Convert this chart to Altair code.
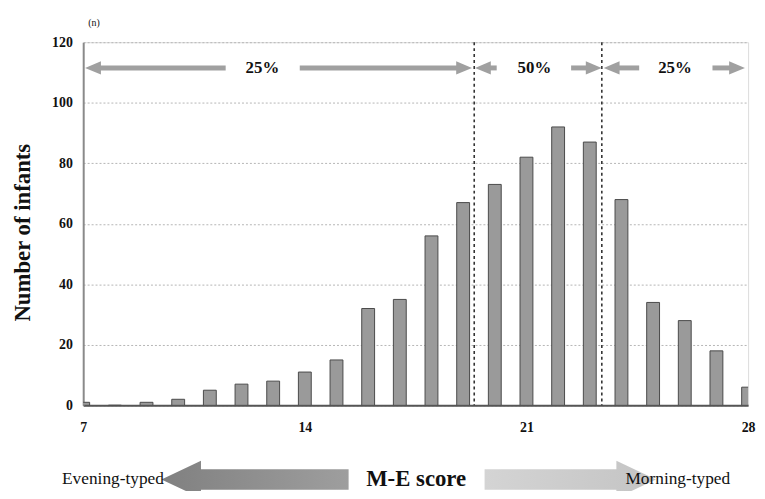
import altair as alt
import pandas as pd

# ---- data ----
scores = list(range(7, 29))
counts = [1, 0, 1, 2, 5, 7, 8, 11, 15, 32, 35, 56, 67, 73, 82, 92, 87, 68, 34, 28, 18, 6]

cutoffs = [19.35, 23.38]

# percentage band arrows (top of the plot)
band_y = 111.5
seg_start = [7.45, 13.84, 19.78, 22.41, 23.84, 26.875]
seg_end = [11.5, 18.88, 20.06, 22.98, 24.56, 27.5]
head_left_x = [7.06, 19.375, 23.44]
head_right_x = [19.28, 23.375, 27.9]
pct_x = [12.66, 21.25, 25.69]
pct_text = ["25%", "50%", "25%"]

# chronotype arrows under the x axis
type_text = ["Evening-typed", "Morning-typed"]
type_x = [7.94, 25.78]
type_y = -24.5
big_left_tip = 9.47
big_right_tip = 25.09

n_label_x = 7.34
n_label_y = 126.5

SERIF = "Liberation Serif"

bars_df = pd.DataFrame({"x": scores, "y": counts})
cut_df = pd.DataFrame({"x": cutoffs})
seg_df = pd.DataFrame({"x": seg_start, "x2": seg_end, "y": [band_y] * len(seg_start)})
hl_df = pd.DataFrame({"x": head_left_x, "y": [band_y] * 3})
hr_df = pd.DataFrame({"x": head_right_x, "y": [band_y] * 3})
pct_df = pd.DataFrame({"x": pct_x, "y": [band_y] * 3, "t": pct_text})
type_df = pd.DataFrame({"x": type_x, "y": [type_y] * 2, "t": type_text})
bl_df = pd.DataFrame({"x": [big_left_tip], "y": [type_y]})
br_df = pd.DataFrame({"x": [big_right_tip], "y": [type_y]})
n_df = pd.DataFrame({"x": [n_label_x], "y": [n_label_y], "t": ["(n)"]})

xscale = alt.Scale(domain=[7, 28], nice=False, zero=False, padding=0)
yscale = alt.Scale(domain=[0, 120], nice=False, padding=0)

x_axis = alt.Axis(
    values=[7, 14, 21, 28], grid=False, ticks=False, labelFlush=False,
    labelFont=SERIF, labelFontSize=14, labelFontWeight="bold", labelColor="#111",
    labelPadding=15, domainColor="#555", domainWidth=2,
    title="M-E score", titleFont=SERIF, titleFontSize=23, titleFontWeight="bold",
    titleColor="#111", titleY=74, titleBaseline="middle",
)
y_axis = alt.Axis(
    values=[0, 20, 40, 60, 80, 100, 120], grid=True, gridDash=[2, 2],
    gridColor="#b5b5b5", gridWidth=1, ticks=False,
    labelFont=SERIF, labelFontSize=14, labelFontWeight="bold", labelColor="#111",
    labelPadding=11, domainColor="#8a8a8a", domainWidth=2,
    title="Number of infants", titleFont=SERIF, titleFontSize=23,
    titleFontWeight="bold", titleColor="#111", titleX=-61, titleY=192,
    titleBaseline="middle",
)


def X():
    return alt.X("x:Q", scale=xscale, axis=x_axis)


def Y():
    return alt.Y("y:Q", scale=yscale, axis=y_axis)


bars = alt.Chart(bars_df).mark_bar(
    size=13, fill="#9a9a9a", stroke="#4a4a4a", strokeWidth=1, clip=True
).encode(x=X(), y=Y())

cuts = alt.Chart(cut_df).mark_rule(
    color="#333", strokeDash=[3, 3], strokeWidth=1.6
).encode(x=X())

segs = alt.Chart(seg_df).mark_rule(color="#a0a0a0", strokeWidth=5).encode(
    x=X(), x2="x2:Q", y=Y()
)

head_l = alt.Chart(hl_df).mark_point(
    shape="M0,0 L1,-0.42 L1,0.42 Z", size=1024, filled=True,
    fill="#a0a0a0", opacity=1, strokeWidth=0,
).encode(x=X(), y=Y())
head_r = alt.Chart(hr_df).mark_point(
    shape="M0,0 L-1,-0.42 L-1,0.42 Z", size=1024, filled=True,
    fill="#a0a0a0", opacity=1, strokeWidth=0,
).encode(x=X(), y=Y())

pct = alt.Chart(pct_df).mark_text(
    font=SERIF, fontSize=17, fontWeight="bold", color="#111"
).encode(x=X(), y=Y(), text="t:N")

big_l = alt.Chart(bl_df).mark_point(
    shape="M0,0 L1,-0.47 L1,-0.26 L4.73,-0.26 L4.73,0.26 L1,0.26 L1,0.47 Z",
    size=6400, filled=True, opacity=1, strokeWidth=0,
    fill=alt.Gradient(
        gradient="linear", x1=0, x2=1, y1=0, y2=0,
        stops=[alt.GradientStop(color="#808080", offset=0),
               alt.GradientStop(color="#9e9e9e", offset=1)],
    ),
).encode(x=X(), y=Y())
big_r = alt.Chart(br_df).mark_point(
    shape="M0,0 L-1,-0.47 L-1,-0.26 L-4.33,-0.26 L-4.33,0.26 L-1,0.26 L-1,0.47 Z",
    size=6400, filled=True, opacity=1, strokeWidth=0,
    fill=alt.Gradient(
        gradient="linear", x1=0, x2=1, y1=0, y2=0,
        stops=[alt.GradientStop(color="#d4d4d4", offset=0),
               alt.GradientStop(color="#c4c4c4", offset=1)],
    ),
).encode(x=X(), y=Y())

types = alt.Chart(type_df).mark_text(
    font=SERIF, fontSize=17.5, color="#111"
).encode(x=X(), y=Y(), text="t:N")

n_txt = alt.Chart(n_df).mark_text(
    font=SERIF, fontSize=10, color="#111"
).encode(x=X(), y=Y(), text="t:N")

chart = alt.layer(
    bars, cuts, segs, head_l, head_r, pct, big_l, big_r, types, n_txt
).properties(
    width=672, height=367,
    autosize=alt.AutoSizeParams(type="none"),
    padding={"left": 76, "top": 32, "right": 9, "bottom": 84},
).configure_view(
    stroke="#a8a8a8", strokeWidth=1.5
).configure(background="white")

chart.save("out.html", embed_options={"renderer": "svg", "actions": False})
